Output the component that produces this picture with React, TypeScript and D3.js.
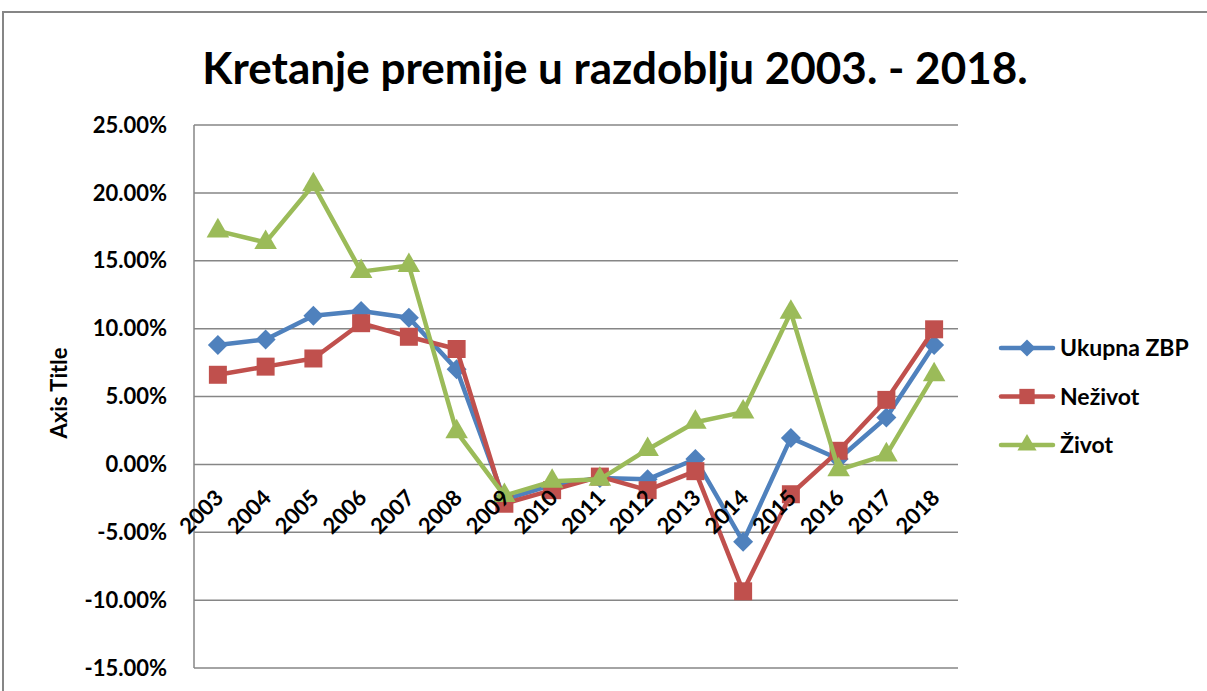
import React from "react";
import * as d3 from "d3";

const years = ["2003","2004","2005","2006","2007","2008","2009","2010","2011","2012","2013","2014","2015","2016","2017","2018"];
const ukupna = [8.8, 9.2, 10.95, 11.3, 10.8, 7.0, -2.6, -1.5, -1.0, -1.1, 0.4, -5.7, 1.95, 0.4, 3.45, 8.8];
const nezivot = [6.6, 7.2, 7.8, 10.4, 9.4, 8.5, -2.9, -1.9, -0.9, -1.9, -0.5, -9.35, -2.2, 1.0, 4.75, 9.95];
const zivot = [17.2, 16.35, 20.6, 14.2, 14.65, 2.4, -2.3, -1.25, -1.1, 1.1, 3.1, 3.85, 11.2, -0.4, 0.7, 6.6];
const yTicks = [-15, -10, -5, 0, 5, 10, 15, 20, 25];

const FONT = "Lato, 'Open Sans', sans-serif";

const series = [
  { name: "Ukupna ZBP", values: ukupna, color: "#4F81BD", shape: "diamond" },
  { name: "Neživot", values: nezivot, color: "#C0504D", shape: "square" },
  { name: "Život", values: zivot, color: "#9BBB59", shape: "triangle" },
];

function marker(shape: string, scale = 1) {
  if (shape === "diamond") return { d: d3.symbol(d3.symbolSquare, 200 * scale * scale)()!, rot: 45 };
  if (shape === "square") return { d: d3.symbol(d3.symbolSquare, 324 * scale * scale)()!, rot: 0 };
  return { d: d3.symbol(d3.symbolTriangle, 220 * scale * scale)()!, rot: 0 };
}

export default function App() {
  const W = 1207, H = 691;
  const x = d3.scaleBand<string>().domain(years).range([194, 958]);
  const y = d3.scaleLinear().domain([-15, 25]).range([668, 125]);
  const cx = (yr: string) => (x(yr) ?? 0) + x.bandwidth() / 2;
  const fmt = (t: number) => d3.format(".2f")(t).replace("−", "-") + "%";
  const line = d3.line<number>().x((_, i) => cx(years[i])).y(d => y(d));

  return (
    <svg width={W} height={H} style={{ position: "absolute", left: 0, top: 0, background: "#fff" }}>
      <rect x={3} y={12} width={1230} height={720} fill="#fff" stroke="#868686" strokeWidth={2} />
      <text x={615} y={84} textAnchor="middle" fontFamily={FONT} fontWeight="bold" fontSize={44} fill="#000">
        Kretanje premije u razdoblju 2003. - 2018.
      </text>
      {yTicks.map(t => (
        <g key={t}>
          <line x1={194} x2={958} y1={y(t)} y2={y(t)} stroke="#868686" strokeWidth={1.5} />
          <text x={167} y={y(t)} dy="0.35em" textAnchor="end" fontFamily={FONT} fontWeight="bold" fontSize={22} fill="#000">
            {fmt(t)}
          </text>
        </g>
      ))}
      <line x1={194} x2={194} y1={125} y2={668} stroke="#868686" strokeWidth={1.5} />
      <text transform="translate(67,393) rotate(-90)" textAnchor="middle" fontFamily={FONT} fontWeight="bold" fontSize={22} fill="#000">
        Axis Title
      </text>
      {series.map(s => (
        <g key={s.name}>
          <path d={line(s.values) ?? ""} fill="none" stroke={s.color} strokeWidth={4.5} strokeLinejoin="round" />
          {s.values.map((v, i) => {
            const m = marker(s.shape);
            return <path key={i} d={m.d} fill={s.color} transform={`translate(${cx(years[i])},${y(v)}) rotate(${m.rot})`} />;
          })}
        </g>
      ))}
      {years.map(yr => (
        <text key={yr} transform={`translate(${cx(yr) - 4},${y(0) + 24}) rotate(-45)`} textAnchor="end" dy="0.7em"
          fontFamily={FONT} fontWeight="bold" fontSize={22} fill="#000">
          {yr}
        </text>
      ))}
      {series.map((s, i) => {
        const ly = 348 + i * 48.5;
        const m = marker(s.shape, 0.85);
        return (
          <g key={s.name}>
            <line x1={1001} x2={1053} y1={ly} y2={ly} stroke={s.color} strokeWidth={4.5} strokeLinecap="round" />
            <path d={m.d} fill={s.color} transform={`translate(1027,${ly}) rotate(${m.rot})`} />
            <text x={1060} y={ly} dy="0.35em" fontFamily={FONT} fontWeight="bold" fontSize={23} fill="#000">{s.name}</text>
          </g>
        );
      })}
    </svg>
  );
}
